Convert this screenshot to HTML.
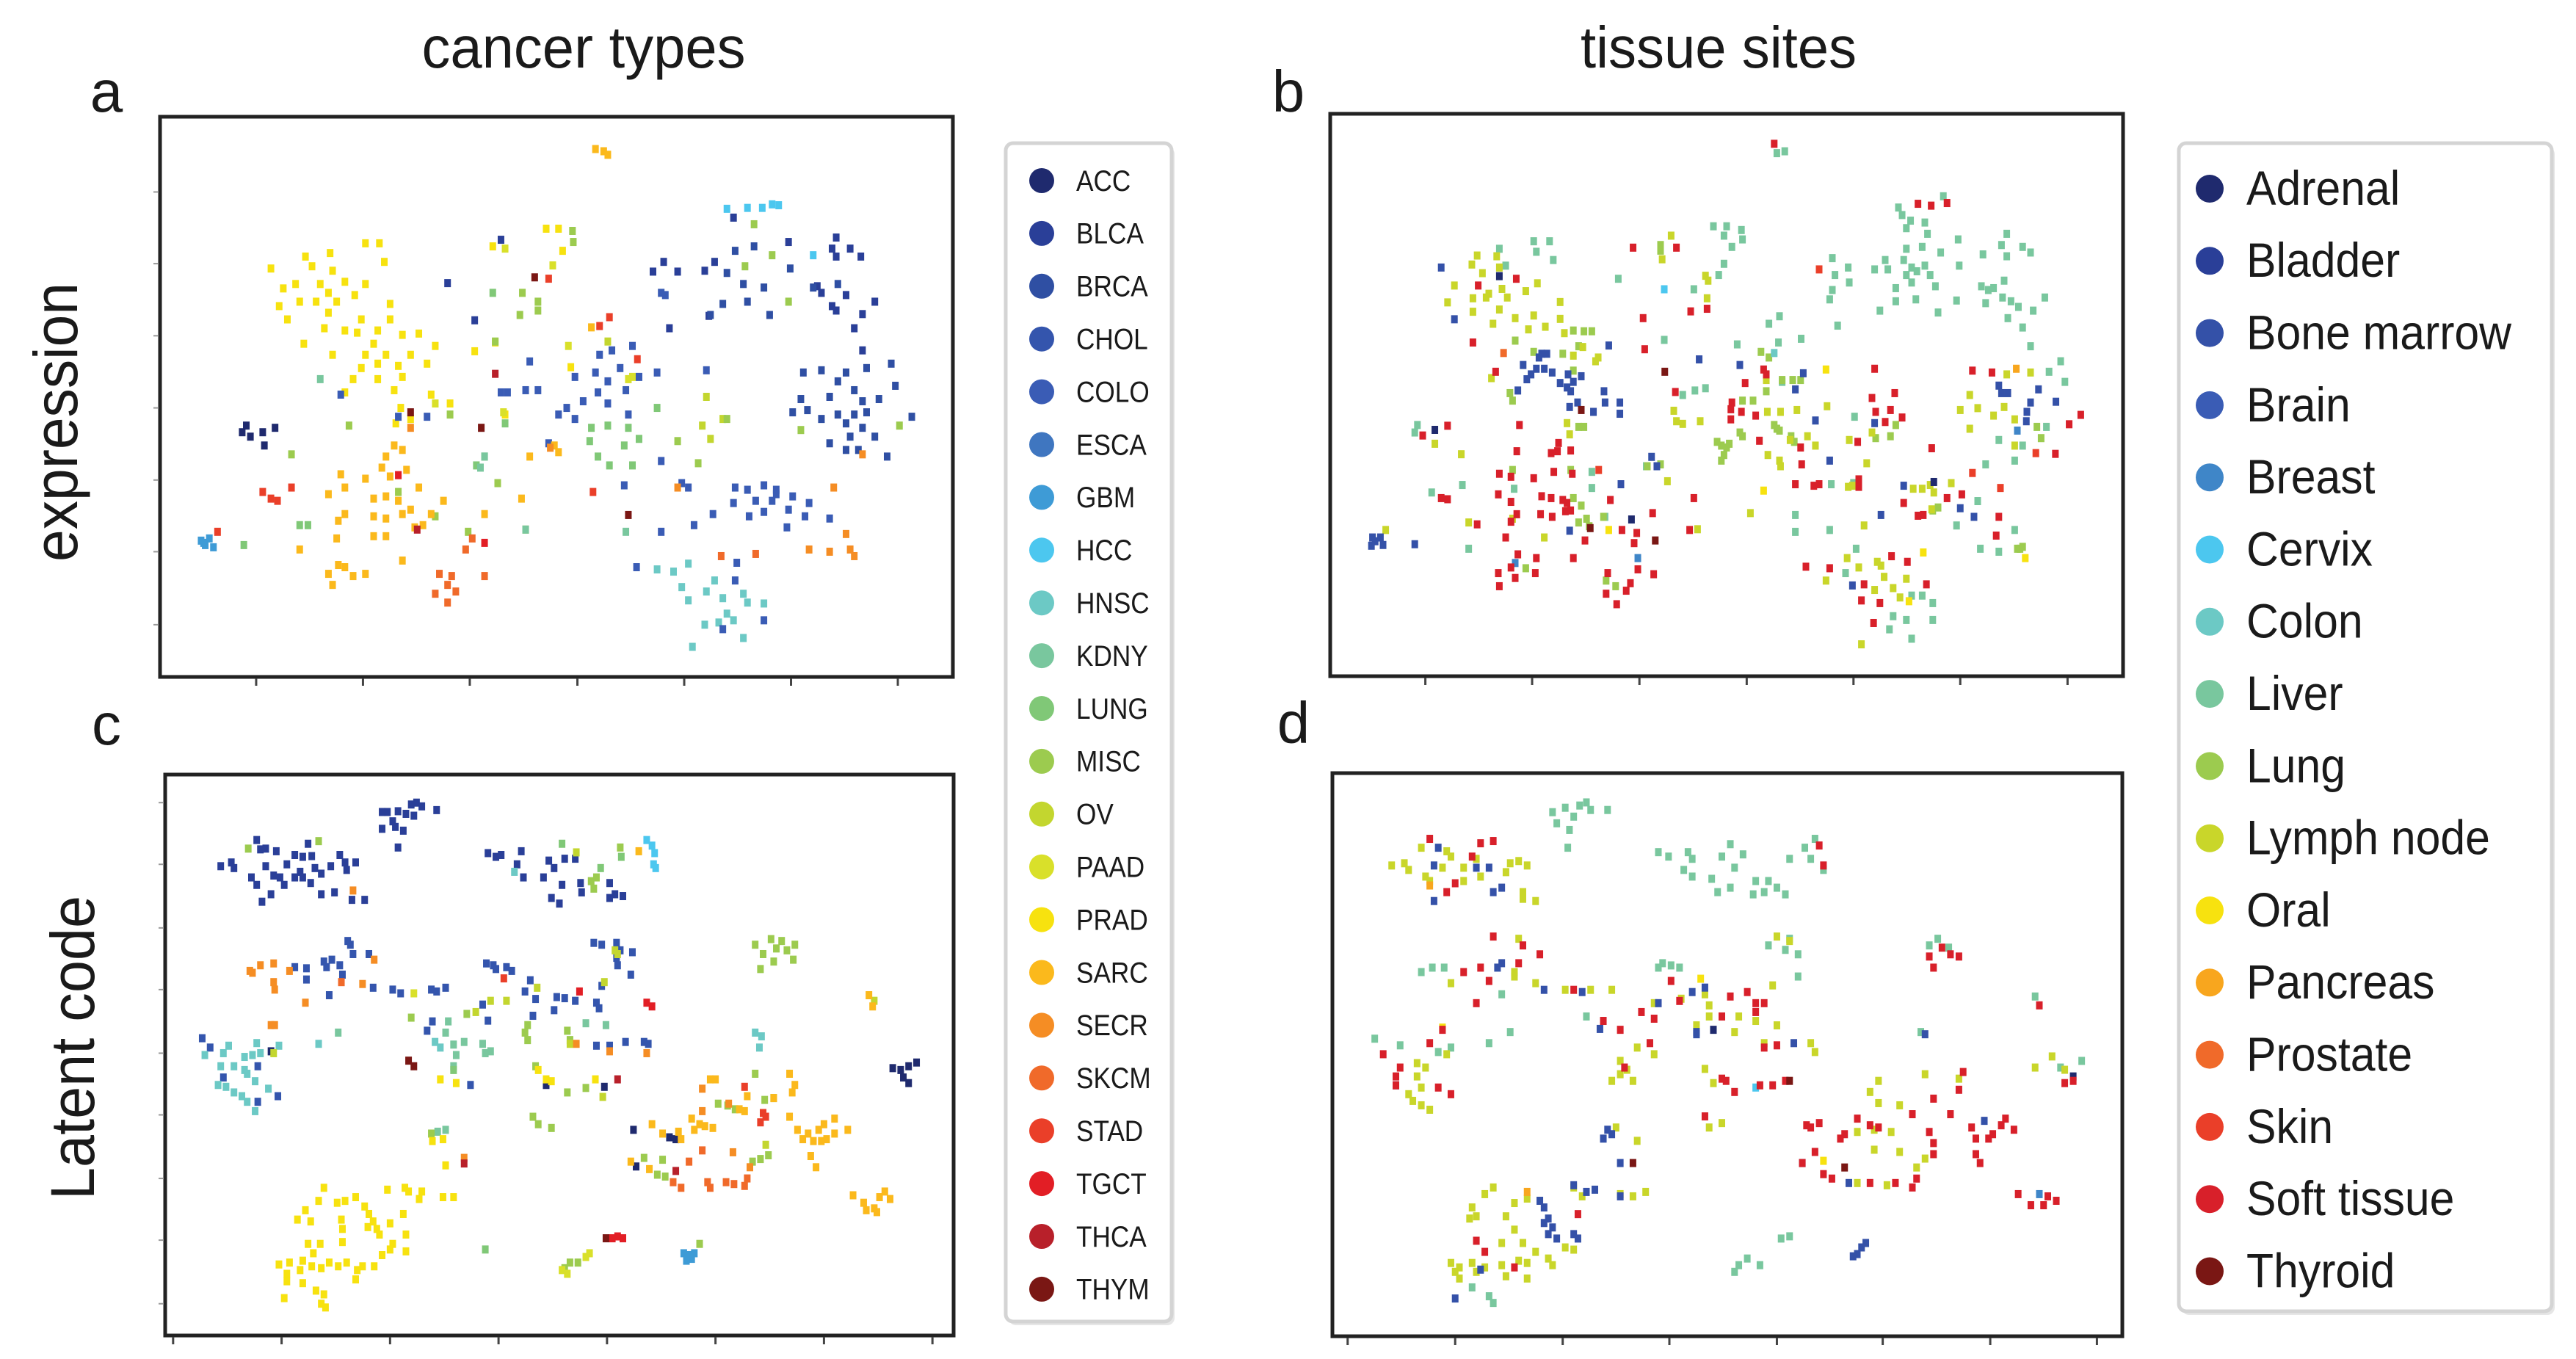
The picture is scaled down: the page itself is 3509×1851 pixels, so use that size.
<!DOCTYPE html>
<html><head><meta charset="utf-8"><title>cancer types / tissue sites</title>
<style>
html,body{margin:0;padding:0;background:#fff;}
svg{display:block;}
text{font-family:"Liberation Sans",sans-serif;fill:#1a1a1a;}
</style></head>
<body>
<svg id="fig" width="3509" height="1851" viewBox="0 0 3509 1851" xmlns="http://www.w3.org/2000/svg">
<rect x="0" y="0" width="3509" height="1851" fill="#fff"/>
<text x="795" y="92" font-size="80" text-anchor="middle" textLength="441" lengthAdjust="spacingAndGlyphs">cancer types</text>
<text x="2341" y="92" font-size="80" text-anchor="middle" textLength="376" lengthAdjust="spacingAndGlyphs">tissue sites</text>
<text x="145" y="152" font-size="80" text-anchor="middle">a</text>
<text x="1755" y="152" font-size="80" text-anchor="middle">b</text>
<text x="145" y="1014" font-size="80" text-anchor="middle">c</text>
<text x="1762" y="1012" font-size="80" text-anchor="middle">d</text>
<text transform="translate(105,575) rotate(-90)" font-size="84" text-anchor="middle" textLength="380" lengthAdjust="spacingAndGlyphs">expression</text>
<text transform="translate(128,1427) rotate(-90)" font-size="84" text-anchor="middle" textLength="414" lengthAdjust="spacingAndGlyphs">Latent code</text>
<g id="plots"></g>
<g id="legends"></g>
</svg>
<script>
const cancerNames=["ACC","BLCA","BRCA","CHOL","COLO","ESCA","GBM","HCC","HNSC","KDNY","LUNG","MISC","OV","PAAD","PRAD","SARC","SECR","SKCM","STAD","TGCT","THCA","THYM"];
const cancerColors=["#1f2a6e","#2a3f98","#2f4fa3","#3455ad","#3a5cb5","#3f76c0","#3e9bd6","#4cc7ef","#6cc9c5","#79c79e","#80c877","#9ccb4f","#c3d62f","#d9e02a","#f7e20f","#fbb91c","#f58d24","#f06a2a","#ea3f29","#e21e25","#b8202a","#7a1714"];
const tissueNames=["Adrenal","Bladder","Bone marrow","Brain","Breast","Cervix","Colon","Liver","Lung","Lymph node","Oral","Pancreas","Prostate","Skin","Soft tissue","Thyroid"];
const tissueColors=["#1f2a6e","#2a3f98","#3451a8","#3a5cb5","#3f86c8","#4cc7ef","#6cc9c5","#79c79e","#9ccb4f","#c9d62a","#f7e20f","#f8a61e","#f06a2a","#ea3f29","#d8202a","#7a1714"];

const aXTicks=[312,442,572,703,833,963,1093];
const aYTicks=[432,594,757,920,1083,1245,1410];
const bXTicks=[210,412,615,818,1020,1222,1425];
const cXTicks=[50,255,460,665,870,1075,1280,1485];
const cYTicks=[125,290,460,625,795,960,1130,1295,1465];
const dXTicks=[118,245,372,498,625,750,877,1003];

const panelAPoints=[
["PRAD","330,605 372,578 402,570 445,548 462,548 468,590 380,600 405,610 360,640 390,640 420,635 445,640 345,650 400,660 340,690 365,680 385,680 410,680 432,665 475,685 350,720 400,705 440,720 475,720 395,740 420,745 370,775 435,750 460,745 490,755 510,752 455,775 405,800 445,800 470,800 500,800 530,780 440,830 460,820 485,825 520,820 430,855 460,855 490,850 480,880 420,885 525,890 548,910 488,920 578,792 603,772 695,828 600,555 665,515 680,515 685,565 615,935 482,955 500,945"],
["PAAD","615,560 673,598 692,780 765,855 770,850 613,930 530,910"],
["OV","740,770 860,895 880,945 855,960 865,990"],
["MISC","697,520 698,545 655,680 655,700 636,660 633,710 603,770 548,935 425,960 355,1025 825,995 850,1045 885,945 975,970 1095,960 940,575 918,505 907,600 960,680 485,1110 530,1165 570,1200 640,1195 606,1090"],
["LUNG","600,660 740,960 765,965 778,990 718,995 728,1030 742,1050 770,1050 760,1005 800,920 720,965 590,1030 580,1050 365,1185 375,1185 297,1230 615,955"],
["KDNY","390,855 585,1055 640,1195 590,1030 762,1200"],
["HNSC","800,1285 820,1290 830,1325 838,1355 860,1335 870,1310 880,1350 885,1385 905,1340 910,1360 930,1362 858,1410 875,1405 893,1400 905,1440 843,1460 838,1272"],
["BLCA","610,540 545,638 578,722 808,590 795,612 825,612 858,610 870,590 863,712 815,740 893,490 960,545 1018,535 1013,560 1035,560 1048,578 1018,578 995,645 1000,660 1030,665 1013,690 1018,700 1050,708 1065,680 1040,740 1050,790"],
["BRCA","885,615 895,565 918,555 905,640 930,648 880,685 865,710 937,710 910,680 962,605 990,648 1020,640 978,840 1000,835 1030,840 1055,830 1085,820 1020,860 1040,880 1010,895 975,900 1050,905 1090,870 1070,900 965,930 983,925 1000,945 1020,935 1040,935 1055,930 1110,940 1030,955 1050,965 1065,985 1035,985 1010,1000 1030,1015 1045,1015 1080,1030"],
["COLO","770,780 745,790 730,800 755,830 725,840 740,860 762,880 778,850 800,840 860,835 645,815 618,885 640,880 655,880 700,850 728,885 740,910 710,905 690,920 680,935 700,945 765,935 610,885 668,1000 805,1040 830,1090 838,1100 760,1095 895,1100 910,1105 930,1095 945,1105 920,1130 945,1115 965,1120 940,1130 893,1135 912,1165 930,1155 960,1150 985,1135 980,1165 1010,1170 958,1190 868,1160 845,1185 805,1200 775,1280 897,1270 895,1310 930,1400 880,1420 415,890 520,940 485,940 805,660 810,665"],
["ACC","300,960 295,975 320,975 335,965 322,1005 305,985"],
["GBM","245,1220 250,1230 255,1215 260,1235 248,1225"],
["HCC","885,470 910,468 928,468 940,460 948,462 990,575"],
["SARC","470,1030 480,1005 490,1015 465,1055 475,1075 495,1060 415,1070 420,1100 445,1080 400,1115 455,1125 470,1120 510,1100 540,1130 485,1130 500,1150 420,1160 412,1175 455,1165 470,1170 490,1160 525,1160 505,1190 515,1185 470,1210 410,1215 455,1210 365,1240 420,1280 430,1300 445,1295 400,1295 405,1320 412,1275 490,1265 590,1160 635,1125 645,1030 675,1005 680,1020 720,738 735,340 740,348 725,335"],
["SECR","670,1010 825,1100 1015,1100 1030,1205 1010,1245 1035,1240 1040,1255 985,1240 1050,1025 500,965"],
["SKCM","535,1295 550,1300 545,1320 555,1335 530,1340 545,1360 590,1300 567,1240 575,1215 920,1250 878,1255"],
["STAD","320,1110 330,1125 338,1130 355,1100 265,1200 722,1110 730,735 742,715 668,628 776,810"],
["TGCT","590,1225 485,1072"],
["THCA","603,843 508,1195"],
["THYM","586,965 765,1162 651,625 500,930"]
];

const panelBPoints=[
["Liver","875,135 890,130 1190,250 1105,280 1112,300 1128,315 1155,320 1120,335 1160,350 1218,365 1310,350 1300,380 1340,385 1355,400 1265,405 1310,410 1120,390 1150,385 1185,400 1115,420 1080,420 1060,445 1085,445 1130,440 1155,435 1140,450 1165,460 1120,460 1130,480 1100,495 1175,490 1220,435 1262,490 1275,500 1285,495 1305,475 1302,520 1318,530 1332,545 1360,555 1382,520 1270,535 1215,528 1138,525 1100,530 1070,555 1180,560 1312,575 1340,600 1355,650 980,415 1010,440 985,460 1012,480 980,500 975,525 990,595 755,330 780,330 808,340 775,355 810,365 790,385 775,430 765,460 718,498 415,370 445,370 420,398 452,420 350,390 362,435 575,470 860,590 880,570 662,633 800,645 878,640 921,630 885,745 720,768 740,762 697,780 1022,838 1020,1015 978,1018 975,1140 910,1100 910,1145 280,1020 222,1040 292,1190 378,1030 525,1028 550,1105 1025,1190 1005,1255 1130,1315 1150,1315 1095,1370 1120,1380 1170,1335 1170,1380 1088,1405 1130,1430 1325,1140 1295,1198 1260,1190 1325,955 1340,915 1385,865 1255,1063 1215,1128 1270,965 1295,900 1390,718 1412,690 1420,745 195,860 190,880 525,985 628,970"],
["Lung","655,380 655,395 380,635 415,665 470,670 500,650 490,608 510,610 525,610 490,715 370,775 375,795 500,865 510,865 485,980 375,980 490,1055 505,1075 515,1110 500,1120 520,1130 547,1105 630,970 655,965 762,905 770,915 780,920 785,910 775,940 770,955 810,795 830,795 805,880 810,890 845,665 860,680 905,740 920,740 885,740 870,860 875,870 880,875 902,890 908,905 855,770 1062,895 1090,890 1100,860 1170,1088 1180,1080 1375,895 1367,865 1335,1190 1330,1190 1340,1185 400,1242 552,1275 570,1290"],
["Lymph node","308,408 298,432 318,455 350,440 345,410 265,488 355,497 300,522 325,520 330,510 365,520 400,503 422,482 252,533 300,558 350,552 380,575 415,568 465,532 465,577 338,590 405,605 437,598 473,615 508,652 490,675 532,690 537,680 335,735 478,855 483,885 228,910 278,938 375,1110 435,1160 292,1120 135,1140 675,355 658,418 740,462 745,475 743,522 680,822 685,850 697,857 730,850 855,740 857,825 882,825 913,820 970,810 900,900 933,890 948,915 858,940 880,955 882,970 668,1010 725,1138 825,1095 1010,1025 1018,1022 1045,962 1012,900 1055,880 1133,1030 1150,1030 1165,1020 1172,1040 1205,1015 1168,1085 1240,780 1222,820 1255,815 1285,835 1305,812 1325,845 1355,720 1310,725 1240,870 1325,915 1040,1128 1008,1215 1030,1240 1065,1225 1072,1235 1078,1265 1095,1295 1060,1300 1120,1270 1108,1320 968,1275 1035,1445"],
["Oral","557,1140 968,712 850,1035 1152,1200 1345,1215 1125,1330"],
["Bone marrow","240,440 265,578 430,670 440,670 425,680 395,700 420,710 435,710 410,725 402,738 450,720 465,748 480,725 505,730 490,745 478,760 485,770 385,768 548,770 550,800 528,825 498,800 483,812 578,800 578,830 557,648 728,685 805,700 638,945 648,970 580,1018 483,1142 1072,1100 1115,1022 1222,1082 1248,1105 1295,755 1300,775 1312,775 1370,765 1355,800 1348,825 1347,850 1403,798 1060,855 948,848 975,955 1018,1288 110,1160 115,1170 125,1160 130,1180 108,1182 190,1178 925,722 910,765"],
["Adrenal","350,463 228,873 600,1112 1172,1012"],
["Breast","612,1215 380,1228 1330,875"],
["Cervix","662,498"],
["Colon","870,668"],
["Pancreas","1328,710"],
["Prostate","358,668"],
["Skin","955,445 1245,988 1298,1028 1365,935 538,980"],
["Soft tissue","870,110 1142,270 1167,275 1197,268 382,470 310,488 603,387 685,387 712,557 743,550 622,575 625,658 300,640 343,718 252,862 205,888 388,860 850,712 855,725 815,748 683,772 790,800 788,818 808,825 835,835 788,845 842,902 920,920 922,965 910,1018 945,1022 955,1018 1030,1005 1030,1025 1060,710 1098,775 1055,788 1062,825 1090,820 1080,852 1112,840 1028,905 1168,922 1245,715 1282,720 1428,858 1450,833 1402,937 1197,1055 1225,1045 1115,1068 1142,1102 1152,1100 1290,1155 1295,1105 718,1055 710,1140 640,1095 610,1148 605,1175 612,1245 642,1258 582,1140 560,1060 512,1168 478,1068 485,1088 485,928 460,930 453,985 488,990 448,935 462,908 383,930 350,990 372,998 415,1002 348,1045 372,1065 430,1050 448,1055 470,1060 475,1090 428,1098 450,1105 383,1098 372,1118 308,1125 362,1160 240,1055 252,1058 385,1205 372,1240 348,1255 350,1290 380,1268 418,1255 420,1215 490,1215 555,1255 552,1310 572,1338 590,1302 598,1282 930,1238 975,1242 1040,1285 1035,1328 1070,1335 1058,1388 1092,1210 1122,1225 1158,1285"],
["Thyroid","663,718 505,820 522,1135 645,1168"]
];

const panelCPoints=[
["BLCA","140,295 160,285 165,300 208,225 215,250 225,248 245,255 198,325 208,345 225,295 240,320 252,325 260,345 235,370 218,390 265,290 280,265 295,270 312,268 305,235 290,310 295,325 280,325 318,300 330,315 310,340 330,370 355,365 348,295 365,265 375,285 378,305 395,285 388,385 412,385 445,150 455,150 465,175 475,148 490,155 500,130 510,125 520,135 505,160 548,145 470,190 485,200 445,195 475,245 645,260 660,270 670,265 708,255 700,290 712,325 750,325 760,280 790,275 770,300 810,275 785,345 765,380 780,395 820,340 822,365 875,340 885,370 875,380 900,375"],
["CHOL","280,565 302,568 302,598 335,550 340,565 350,545 365,560 370,585 380,495 385,505 390,530 420,530 345,640 428,620 465,625 480,635 538,625 548,630 565,620 642,555 655,560 660,570 680,565 690,575 725,600 715,630 735,650 775,645 790,648 810,655 850,660 855,675 845,500 860,505 888,500 895,520 918,525 888,540 890,560 915,585 860,615 635,665 770,680 730,695 645,708 540,710 530,735 850,775 875,775 905,765 940,765 948,770 612,880 105,755 120,780 145,860 210,830 248,910 210,925"],
["ACC","1410,835 1425,840 1440,830 1455,820 1430,860 1440,875 755,880 865,885 920,1000 988,1020 1000,1025 925,1098 235,790"],
["HNSC","155,775 145,795 110,800 140,830 165,830 185,805 200,800 215,795 185,840 190,850 135,880 150,885 165,900 180,910 190,925 205,950 230,890 205,870 250,775 208,768 325,770 545,765 555,780 695,310 1150,740 1162,750 1158,780"],
["KDNY","570,710 565,740 580,772 585,800 580,830 600,765 635,770 640,795 650,790 868,720 362,740 830,715 550,1005 565,1000"],
["LUNG","785,235 858,300 897,270 580,840 640,1320"],
["MISC","192,248 325,228 840,335 850,325 845,355 895,245 1150,505 1165,530 1180,490 1185,550 1190,515 1200,495 1210,520 1222,545 1160,570 1225,505 500,700 605,690 720,720 715,740 720,760 735,830 795,735 800,760 830,888 795,900 730,965 740,985 765,995 538,1010 1080,930 1098,935 1112,945 1168,920 1185,915 1150,850 940,1075 975,1080 965,1120 980,1125 1145,1085 1160,1078 1175,1068 1045,1305 790,1370 800,1355 815,1355"],
["OV","885,520 890,530 812,258 865,605 738,620 650,655 622,685 680,655 240,795 1375,655 800,770 1170,1040 862,912"],
["PAAD","505,635 837,1330 830,1340 785,1375 795,1385"],
["PRAD","555,865 585,875 740,840 755,865 765,870 848,865 540,1030 560,1025 565,1095 335,1155 325,1190 300,1215 285,1240 310,1245 360,1195 375,1190 395,1180 412,1205 420,1225 428,1245 418,1260 435,1265 440,1280 455,1160 460,1250 488,1155 495,1165 520,1165 515,1185 485,1225 465,1305 460,1320 490,1280 490,1325 445,1335 430,1365 408,1365 398,1375 395,1400 378,1355 362,1365 345,1355 330,1370 312,1365 295,1350 290,1375 270,1355 250,1360 265,1385 265,1405 295,1410 320,1430 335,1440 330,1465 338,1475 260,1450 305,1305 315,1330 328,1305 368,1240 370,1265 370,1300 560,1180 580,1180"],
["SARC","930,255 1365,640 1372,670 1215,850 1225,880 1220,900 1065,865 1075,865 1030,970 1045,985 1055,990 1070,995 1035,1000 1120,945 1130,950 1135,910 1185,915 1215,965 1230,1000 1250,1010 1240,1025 1260,1030 1275,1030 1285,1025 1270,1000 1280,985 1300,970 1300,1010 1325,1000 1255,1070 1265,1100 955,985 975,1010 1005,1005 1010,1025 950,1105 915,1085 1335,1175 1355,1195 1360,1215 1375,1210 1385,1180 1395,1165 1405,1185 1380,1220"],
["SECR","195,575 200,580 215,560 240,555 270,575 240,605 242,625 300,660 408,610 430,545 235,720 242,720 390,360 1050,890 1100,930 1050,950 1140,1100 945,795 812,770 875,790 600,1075 1108,1060"],
["SKCM","368,605 1050,1055 1025,1085 995,1140 1010,1155 1060,1140 1065,1155 1095,1140 1110,1145 1130,1150 1135,1130"],
["STAD","675,595 1130,885 1160,980 1165,955 1170,965"],
["TGCT","818,630 945,660 955,670 880,1290 890,1285 900,1290"],
["THCA","600,1090 890,865 1000,1110"],
["THYM","495,815 505,830 868,1290"],
["GBM","1015,1330 1025,1335 1030,1345 1020,1350 1035,1330"],
["HCC","945,225 955,240 960,260 962,300 958,290"]
];

const panelDPoints=[
["Liver","360,340 375,330 392,325 400,318 405,335 385,350 365,365 380,380 425,335 378,420 485,430 497,440 520,430 525,445 515,470 525,485 548,490 570,412 560,440 585,435 575,465 555,520 570,510 600,495 615,495 625,510 610,520 635,525 597,525 640,445 658,420 670,400 665,445 680,470 615,640 635,650 650,660 640,625 650,710 805,640 815,625 828,645 485,690 500,685 510,690 490,680 232,690 218,690 205,700 300,750 400,800 310,835 285,860 150,850 180,865 240,870 225,880 605,1360 580,1360 575,1375 590,1345 630,1300 640,1295 795,835 930,755 960,915 985,900 290,1445 285,1430 265,1410"],
["Lymph node","170,460 185,455 190,470 230,465 255,465 270,445 240,440 210,485 215,495 255,495 275,485 305,475 310,455 320,450 330,460 325,535 340,540 325,520 205,420 235,428 320,625 315,700 315,710 240,725 340,725 375,740 405,740 430,740 480,770 512,760 540,750 545,775 530,820 545,800 580,800 575,835 600,810 625,820 610,860 665,860 670,880 625,620 640,630 620,730 460,870 440,900 448,920 480,885 440,930 430,945 455,945 550,950 540,918 460,1080 435,1050 395,1205 385,1185 440,1200 455,1205 470,1195 290,1185 280,1200 265,1230 270,1250 330,1210 315,1220 305,1250 262,1255 315,1280 325,1310 300,1310 340,1330 355,1345 360,1360 330,1355 320,1350 300,1360 280,1365 265,1355 250,1365 240,1355 245,1375 250,1390 270,1375 305,1385 330,1390 375,1320 385,1325 235,885 200,905 210,915 200,935 205,960 190,975 195,990 205,1000 215,1010 545,1050 560,1040 720,1060 740,1055 760,1060 770,1000 745,995 735,970 745,945 800,930 840,940 740,1100 770,1105 800,1120 930,915 965,920 950,890 755,1180 720,1175 790,1140"],
["Oral","535,715 230,825 680,1125"],
["Pancreas","215,505 330,1195"],
["Bone marrow","225,420 220,460 220,540 290,520 270,465 285,465 300,510 300,680 295,690 350,740 395,745 485,770 525,745 540,735 416,828 530,835 530,840 645,860 800,840 425,1055 430,1065 420,1075 440,1130 385,1180 400,1195 410,1190 345,1215 355,1255 350,1265 360,1275 355,1290 365,1300 390,1300 385,1290 350,1230 440,1205 275,1370 245,1435 175,955 720,1335 725,1320 715,1340 730,1310 870,1035 655,1130 710,1175"],
["Adrenal","550,830 975,935"],
["Cervix","600,960"],
["Breast","935,1200"],
["Soft tissue","215,400 275,410 290,405 265,440 235,520 245,500 275,690 255,700 285,720 270,770 320,680 325,640 345,660 385,740 290,620 230,830 215,860 160,885 180,915 175,935 175,955 225,960 240,975 420,810 440,830 465,790 480,805 500,720 510,765 570,755 590,745 600,770 610,770 600,790 475,860 445,915 565,945 575,970 560,940 605,955 620,955 635,945 610,870 625,865 540,1025 675,415 680,460 805,665 810,690 830,660 840,665 820,645 935,775 660,1045 675,1040 665,1050 720,1030 735,1045 745,1050 700,1075 705,1065 785,1020 810,985 840,965 845,925 805,1060 830,1020 860,1075 875,1075 890,1045 895,1030 905,1055 855,1050 810,1085 810,1110 860,1110 865,1130 880,1065 670,1105 655,1130 680,1155 690,1165 735,1175 765,1175 790,1165 785,1185 910,1200 925,1225 940,1225 945,1205 955,1215 965,950 975,945 390,1245 270,1305 280,1330 315,1365 560,800"],
["Thyroid","705,1140 640,945 455,1130"]
];

const NS="http://www.w3.org/2000/svg";
function mk(tag,attrs,parent){const e=document.createElementNS(NS,tag);for(const k in attrs)e.setAttribute(k,attrs[k]);parent.appendChild(e);return e;}
function linScale(d0,d1,r0,r1){return v=>r0+(v-d0)/(d1-d0)*(r1-r0);}

const panels=[
 {id:"a",px:[218,159,1298,922],dom:[195,262,1160,1528],pts:panelAPoints,names:cancerNames,cols:cancerColors,xt:aXTicks,yt:aYTicks},
 {id:"b",px:[1812,155,2892,921],dom:[30,30,1530,1530],pts:panelBPoints,names:tissueNames,cols:tissueColors,xt:bXTicks,yt:[]},
 {id:"c",px:[225,1055,1299,1819],dom:[35,50,1525,1550],pts:panelCPoints,names:cancerNames,cols:cancerColors,xt:cXTicks,yt:cYTicks},
 {id:"d",px:[1815,1053,2891,1820],dom:[100,252,1033,1520],pts:panelDPoints,names:tissueNames,cols:tissueColors,xt:dXTicks,yt:[]}
];
const plots=document.getElementById("plots");
panels.forEach(p=>{
 const g=mk("g",{},plots);
 
 
 const [x0,y0,x1,y1]=p.px;
 const sx=linScale(p.dom[0],p.dom[2],x0,x1);
 const sy=linScale(p.dom[1],p.dom[3],y0,y1);
 const frame=mk("rect",{x:x0,y:y0,width:x1-x0,height:y1-y0,fill:"#fff",stroke:"#222","stroke-width":5},g);
 
 
 p.xt.forEach(t=>{
  const l=mk("line",{x1:sx(t),x2:sx(t),y1:y1+2,y2:y1+12,stroke:"#444","stroke-width":3},g);
  
  
 });
 p.yt.forEach(t=>{
  const l=mk("line",{x1:x0-2,x2:x0-9,y1:sy(t),y2:sy(t),stroke:"#999","stroke-width":2},g);
  
  
 });
 p.pts.forEach(([cat,str])=>{
  const col=p.cols[p.names.indexOf(cat)];
  str.trim().split(/\s+/).forEach(s=>{
   const [vx,vy]=s.split(",").map(Number);
   const r=mk("rect",{x:sx(vx)-4.5,y:sy(vy)-5.5,width:9,height:11,fill:col},g);
   
   
  });
 });
});

const legends=document.getElementById("legends");
function legend(name,box,names,cols,y0,step,cx,r,tx,fs,condense){
 const g=mk("g",{},legends);
 
 
 mk("rect",{x:box[0]+4,y:box[1]+5,width:box[2],height:box[3],rx:10,fill:"#e6e6e6"},g);
 const bx=mk("rect",{x:box[0],y:box[1],width:box[2],height:box[3],rx:10,fill:"#fff",stroke:"#d4d4d4","stroke-width":5},g);
 
 
 names.forEach((n,i)=>{
  const y=y0+i*step;
  const eg=mk("g",{},g);
  
  
  mk("circle",{cx:cx,cy:y,r:r,fill:cols[i]},eg);
  const t=mk("text",{x:tx,y:y,"font-size":fs,"dominant-baseline":"central",transform:`translate(${tx*(1-condense)},0) scale(${condense},1)`},eg);
  t.setAttribute('x',tx);
  t.textContent=n;
 });
}
legend("legend-cancer-types",[1370,195,226,1605],cancerNames,cancerColors,246,71.9,1419,17,1466,40,0.88);
legend("legend-tissue-sites",[2968,195,508,1591],tissueNames,tissueColors,257,98.3,3010,19,3060,66,0.92);
</script>
</body></html>
